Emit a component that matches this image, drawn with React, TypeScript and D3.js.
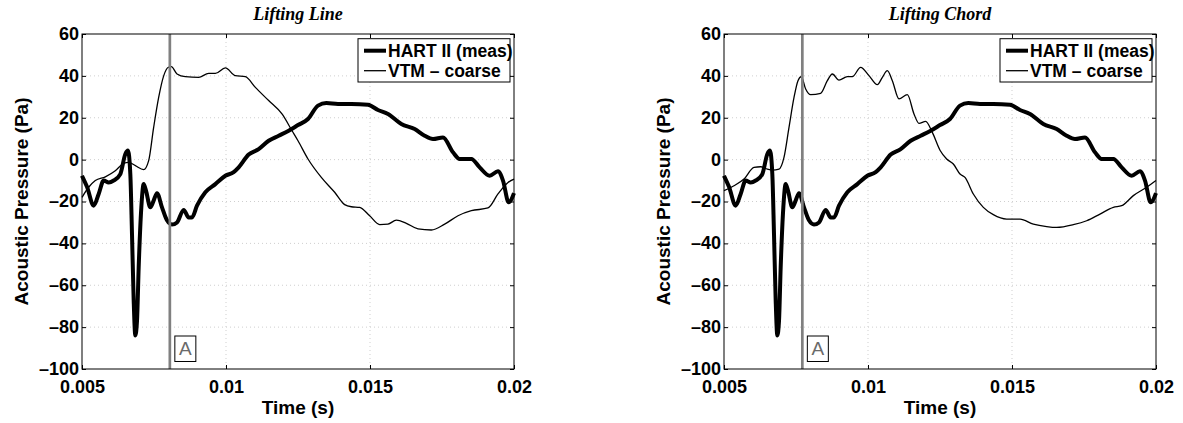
import { useEffect, useRef } from 'react';
import * as d3 from 'd3';

// time (s), acoustic pressure (Pa)
const hartSeries: [number, number][] = [
  [0.005, -7.7], [0.005174, -13], [0.005405, -22], [0.005579, -16.4], [0.005752, -10],
  [0.005926, -10.9], [0.0061, -10], [0.006331, -6.9], [0.006505, 2.7], [0.006597, 4.3],
  [0.006678, -6.9], [0.006736, -35.5], [0.006794, -67], [0.006852, -84], [0.00691, -77],
  [0.006968, -51.5], [0.00706, -22.8], [0.007141, -11.7], [0.007222, -14.8], [0.007373, -22.8],
  [0.007488, -19.6], [0.007604, -16], [0.007778, -22.8], [0.007951, -29], [0.008125, -31],
  [0.008299, -30], [0.00853, -24], [0.008704, -27.6], [0.008819, -27.6], [0.008993, -22],
  [0.009282, -15.6], [0.00963, -11.7], [0.009977, -7.7], [0.010266, -6], [0.01044, -3.7],
  [0.010787, 2.4], [0.011134, 5], [0.011481, 9], [0.011829, 11.4], [0.012176, 13.8],
  [0.0125, 16.5], [0.012847, 19.4], [0.013194, 25.8], [0.013484, 27], [0.013889, 26.6],
  [0.014352, 26.6], [0.014931, 26.2], [0.015278, 23.7], [0.015625, 21.8], [0.016088, 17],
  [0.016551, 14.6], [0.016898, 11.4], [0.017188, 9.8], [0.017535, 10.6], [0.017882, 3.5],
  [0.018113, 0.3], [0.018519, 0.3], [0.018808, -3.7], [0.019155, -7.7], [0.019444, -5.6],
  [0.019618, -10], [0.019815, -20.4], [0.02, -16],
];

const liftingLineSeries: [number, number][] = [
  [0.005, -18], [0.005231, -13.2], [0.005463, -10], [0.00581, -8.2], [0.006157, -5.3],
  [0.006447, -1.8], [0.00662, -1.3], [0.006852, -2.9], [0.007141, -4.8], [0.007315, -0.5],
  [0.007488, 15.4], [0.007662, 29.7], [0.007836, 40], [0.007986, 44], [0.008102, 44.4],
  [0.008299, 40.9], [0.008588, 39.6], [0.009051, 39.3], [0.009398, 41.2], [0.00963, 41.2],
  [0.009977, 43.8], [0.010324, 40.1], [0.010671, 39.6], [0.011019, 34.5], [0.011481, 28.2],
  [0.011944, 21.8], [0.012292, 13.8], [0.0125, 9], [0.012847, 0.3], [0.01331, -8.5],
  [0.013773, -15.6], [0.01412, -21.5], [0.014352, -22.5], [0.014641, -22.8], [0.014988, -26.8],
  [0.015336, -31], [0.015625, -30.8], [0.015914, -28.9], [0.016262, -30.4], [0.016667, -33.1],
  [0.01713, -33.6], [0.017593, -30.8], [0.018056, -26.8], [0.018519, -24.4], [0.019097, -23.1],
  [0.019444, -16.4], [0.019792, -10.9], [0.02, -9.3],
];

const liftingChordSeries: [number, number][] = [
  [0.005, -14.8], [0.005347, -12.5], [0.005694, -9.3], [0.006042, -3.7], [0.006273, -3.4],
  [0.006505, -4.5], [0.006678, -5], [0.00691, -4.5], [0.007083, 1.1], [0.007257, 15.4],
  [0.007431, 29.7], [0.007569, 37.7], [0.007685, 39.6], [0.007836, 33.7], [0.008009, 31],
  [0.008356, 31.7], [0.008588, 37.7], [0.008762, 40.9], [0.008993, 38], [0.009282, 39.6],
  [0.009456, 39.6], [0.009745, 44.1], [0.010035, 40.1], [0.010324, 35.8], [0.010498, 39.3],
  [0.010671, 42.5], [0.010845, 37.7], [0.011076, 29], [0.011366, 31], [0.011597, 21.8],
  [0.011771, 17.3], [0.012002, 18.3], [0.012234, 13], [0.0125, 4.5], [0.012731, 0.3],
  [0.012963, -2.1], [0.013194, -6.9], [0.013368, -8.5], [0.013657, -16.4], [0.014005, -22.8],
  [0.014352, -26.3], [0.014815, -28.4], [0.015278, -28.4], [0.015741, -30.8], [0.016204, -32],
  [0.016551, -32.4], [0.01713, -31.1], [0.017593, -29.2], [0.018056, -26], [0.018519, -22.8],
  [0.018808, -22], [0.019213, -17.2], [0.019676, -13.2], [0.02, -10],
];

const xTicks = [0.005, 0.01, 0.015, 0.02];
const yTicks = [-100, -80, -60, -40, -20, 0, 20, 40, 60];
const legendLabels = ['HART II (meas)', 'VTM \u2013 coarse'];

const panels = [
  { title: 'Lifting Line', left: 82, series: liftingLineSeries, marker: 0.00805 },
  { title: 'Lifting Chord', left: 724, series: liftingChordSeries, marker: 0.00772 },
];

const TOP = 34;
const PW = 432;
const PH = 335;
const SANS = '"Liberation Sans", Arial, Helvetica, sans-serif';
const SERIF = '"Liberation Serif", "Times New Roman", serif';

const App = () => {
  const ref = useRef<SVGSVGElement>(null);

  useEffect(() => {
    const svg = d3.select(ref.current);
    svg.selectAll('*').remove();

    const x = d3.scaleLinear().domain([0.005, 0.02]).range([0, PW]);
    const y = d3.scaleLinear().domain([-100, 60]).range([PH, 0]);
    const line = d3
      .line<[number, number]>()
      .x((d) => x(d[0]))
      .y((d) => y(d[1]))
      .curve(d3.curveMonotoneX);

    panels.forEach((p) => {
      const g = svg.append('g').attr('transform', `translate(${p.left}, ${TOP})`);

      // grid
      g.append('g')
        .selectAll('line')
        .data(xTicks.slice(1, -1))
        .join('line')
        .attr('x1', (d) => x(d))
        .attr('x2', (d) => x(d))
        .attr('y1', 0)
        .attr('y2', PH)
        .attr('stroke', '#cfcfcf')
        .attr('stroke-dasharray', '1,3');
      g.append('g')
        .selectAll('line')
        .data(yTicks.slice(1, -1))
        .join('line')
        .attr('x1', 0)
        .attr('x2', PW)
        .attr('y1', (d) => y(d))
        .attr('y2', (d) => y(d))
        .attr('stroke', '#cfcfcf')
        .attr('stroke-dasharray', '1,3');

      // axes (ticks inside, mirrored on top/right)
      const fmtY = (d: d3.NumberValue) => String(d).replace('-', '\u2013');
      const ax = g.append('g').call(
        d3.axisLeft(y).tickValues(yTicks).tickSize(-4).tickPadding(3).tickFormat(fmtY)
      );
      ax.selectAll('text').attr('dy', '0.3em');
      const bx = g
        .append('g')
        .attr('transform', `translate(0, ${PH})`)
        .call(
          d3
            .axisBottom(x)
            .tickValues(xTicks)
            .tickSize(-4)
            .tickPadding(11)
            .tickFormat((d) => String(d))
        );
      g.append('g')
        .attr('transform', `translate(${PW}, 0)`)
        .call(d3.axisRight(y).tickValues(yTicks).tickSize(-4).tickFormat(() => ''));
      g.append('g').call(d3.axisTop(x).tickValues(xTicks).tickSize(-4).tickFormat(() => ''));
      [ax, bx].forEach((a) =>
        a
          .selectAll('text')
          .style('font-family', SANS)
          .style('font-weight', 'bold')
          .style('font-size', '18px')
          .attr('fill', '#000')
      );
      g.selectAll('.domain').remove();

      // series
      g.append('path')
        .datum(p.series)
        .attr('d', line)
        .attr('fill', 'none')
        .attr('stroke', '#000')
        .attr('stroke-width', 1.3);
      g.append('path')
        .datum(hartSeries)
        .attr('d', line)
        .attr('fill', 'none')
        .attr('stroke', '#000')
        .attr('stroke-width', 4)
        .attr('stroke-linejoin', 'round');

      // marker line and A label
      const mx = x(p.marker);
      g.append('line')
        .attr('x1', mx)
        .attr('x2', mx)
        .attr('y1', 0)
        .attr('y2', PH)
        .attr('stroke', '#808080')
        .attr('stroke-width', 2.7);
      g.append('rect')
        .attr('x', mx + 5)
        .attr('y', 302)
        .attr('width', 21)
        .attr('height', 25.5)
        .attr('fill', '#fff')
        .attr('stroke', '#000')
        .attr('stroke-width', 1);
      g.append('text')
        .attr('x', mx + 15.5)
        .attr('y', 321)
        .attr('text-anchor', 'middle')
        .style('font-family', SANS)
        .style('font-size', '19px')
        .attr('fill', '#6a6a6a')
        .text('A');

      // frame
      g.append('rect')
        .attr('width', PW)
        .attr('height', PH)
        .attr('fill', 'none')
        .attr('stroke', '#000')
        .attr('stroke-width', 1);

      // legend
      const lg = g.append('g').attr('transform', 'translate(276, 4.7)');
      lg.append('rect')
        .attr('width', 152)
        .attr('height', 43.3)
        .attr('fill', '#fff')
        .attr('stroke', '#000')
        .attr('stroke-width', 1);
      legendLabels.forEach((label, i) => {
        lg.append('line')
          .attr('x1', 6)
          .attr('x2', 28)
          .attr('y1', 12 + i * 20)
          .attr('y2', 12 + i * 20)
          .attr('stroke', '#000')
          .attr('stroke-width', i === 0 ? 4 : 1.3);
        lg.append('text')
          .attr('x', 30)
          .attr('y', 18.5 + i * 20)
          .style('font-family', SANS)
          .style('font-weight', 'bold')
          .style('font-size', '17.5px')
          .text(label);
      });

      // title and axis labels
      g.append('text')
        .attr('x', PW / 2)
        .attr('y', -14)
        .attr('text-anchor', 'middle')
        .style('font-family', SERIF)
        .style('font-weight', 'bold')
        .style('font-style', 'italic')
        .style('font-size', '18px')
        .text(p.title);
      g.append('text')
        .attr('x', PW / 2)
        .attr('y', 380)
        .attr('text-anchor', 'middle')
        .style('font-family', SANS)
        .style('font-weight', 'bold')
        .style('font-size', '19px')
        .text('Time (s)');
      g.append('text')
        .attr('transform', `translate(-54, ${PH / 2}) rotate(-90)`)
        .attr('text-anchor', 'middle')
        .style('font-family', SANS)
        .style('font-weight', 'bold')
        .style('font-size', '19px')
        .text('Acoustic Pressure (Pa)');
    });
  }, []);

  return (
    <svg
      ref={ref}
      width={1183}
      height={423}
      style={{ position: 'absolute', left: 0, top: 0, background: '#fff' }}
    />
  );
};

export default App;
